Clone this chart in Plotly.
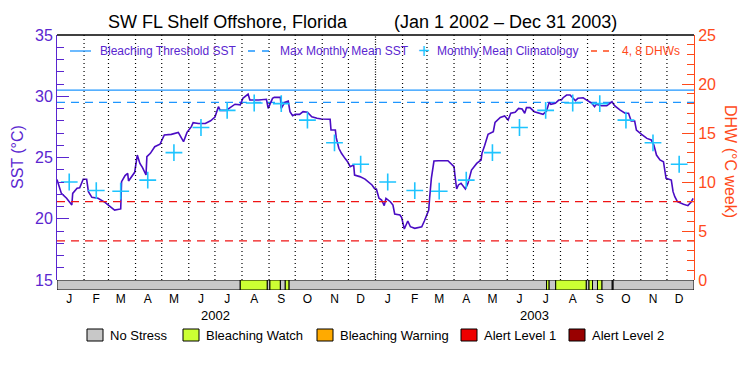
import plotly.graph_objects as go
import pandas as pd

# ---------------- data ----------------
start_date = "2002-01-01"
n_days = 730

# daily SST trace (day offset from 1 Jan 2002, SST in degC)
sst_day = [0, 2, 5, 11, 17, 18, 23, 26, 28, 30, 34, 36, 40, 47, 55, 63, 66, 73, 74, 78,
           81, 82, 87, 89, 92, 95, 98, 102, 103, 107, 112, 118, 123, 131, 139, 145, 149, 154, 156, 162,
           170, 176, 181, 185, 187, 194, 198, 204, 210, 213, 219, 221, 231, 240, 242, 247, 249, 256, 257, 261,
           265, 267, 270, 273, 278, 282, 287, 292, 298, 303, 313, 314, 319, 320, 323, 326, 330, 333, 336, 340,
           341, 347, 353, 357, 361, 364, 366, 369, 372, 375, 377, 382, 385, 387, 393, 395, 398, 402, 405, 410,
           418, 421, 424, 426, 427, 429, 432, 437, 448, 453, 455, 456, 458, 460, 463, 468, 471, 475, 481, 486,
           487, 490, 494, 500, 502, 508, 513, 517, 520, 525, 529, 533, 536, 538, 542, 547, 553, 557, 561, 564,
           566, 571, 575, 578, 580, 584, 588, 591, 594, 597, 603, 607, 613, 616, 618, 624, 630, 636, 639, 645,
           651, 655, 658, 662, 664, 670, 676, 681, 684, 687, 691, 695, 698, 704, 706, 708, 711, 718, 723, 727, 729]
sst_val = [23.2, 22.76, 22.07, 21.67, 21.12, 22.07, 22.49, 22.53, 22.89, 23.22, 23.22, 22.21, 21.75, 21.67, 21.34, 20.93, 20.71, 20.8, 23.03, 23.52,
           23.7, 23.08, 23.57, 23.79, 25.2, 24.52, 24.17, 23.57, 25.07, 25.34, 25.88, 26.08, 26.84, 26.89, 27.05, 26.29, 27.05, 27.52, 27.84, 27.78,
           27.78, 28.0, 28.3, 29.15, 28.85, 28.85, 29.05, 29.35, 29.3, 29.83, 30.17, 29.69, 29.69, 29.75, 29.01, 29.83, 29.91, 29.91, 29.01, 29.5,
           29.61, 28.74, 28.41, 28.52, 28.52, 28.74, 28.69, 28.33, 28.2, 28.14, 28.12, 27.24, 27.24, 26.62, 25.75, 25.34, 24.93, 24.66, 24.25, 24.39,
           23.57, 23.44, 23.24, 23.03, 22.76, 22.45, 22.43, 21.67, 21.53, 21.07, 21.67, 21.39, 21.12, 20.39, 20.31, 20.09, 19.16, 19.82, 19.35, 19.22,
           19.35, 19.82, 20.44, 20.71, 21.67, 23.3, 24.71, 24.74, 24.74, 24.39, 24.25, 23.57, 22.43, 22.76, 22.89, 22.43, 22.89, 23.98, 24.52, 24.8,
           25.34, 25.96, 26.89, 27.1, 27.86, 28.27, 28.39, 28.06, 28.61, 28.69, 29.01, 28.96, 28.61, 29.07, 29.07, 28.74, 28.61, 28.52, 28.8, 29.5,
           29.34, 29.42, 29.69, 29.69, 29.88, 30.1, 30.1, 29.83, 29.64, 29.83, 29.88, 29.69, 29.42, 29.15, 29.34, 29.23, 29.23, 29.55, 29.23, 28.88,
           28.61, 28.61, 27.98, 27.98, 27.24, 26.89, 26.56, 26.43, 26.02, 25.2, 24.8, 24.66, 23.3, 23.16, 22.21, 21.8, 21.39, 21.18, 21.07, 21.39, 21.67]

# monthly mean climatology (Jan..Dec), plotted at mid-month of each year
clim_months = ["01", "02", "03", "04", "05", "06", "07", "08", "09", "10", "11", "12"]
clim_sst = [23.0, 22.3, 22.25, 23.15, 25.4, 27.45, 28.85, 29.45, 29.4, 28.05, 26.2, 24.45]
years = ["2002", "2003"]

bleaching_threshold = 30.5
max_monthly_mean = 29.5
dhw_levels = [4, 8]

# bleaching stress bar: (start day, end day, level)
stress_start = [0, 210, 241, 244, 256, 261.6, 266, 561, 564, 571.5, 606.6, 609.7, 613.7, 619.4, 624.6, 636.3, 637.3]
stress_end = [210, 241, 244, 256, 261.6, 266, 561, 564, 571.5, 606.6, 609.7, 613.7, 619.4, 624.6, 636.3, 637.3, 730]
stress_level = ["No Stress", "Bleaching Watch", "No Stress", "Bleaching Watch", "No Stress", "Bleaching Watch",
                "No Stress", "Bleaching Watch", "No Stress", "Bleaching Watch", "No Stress", "Bleaching Watch",
                "No Stress", "Bleaching Watch", "No Stress", "No Stress", "No Stress"]

stress_names = ["No Stress", "Bleaching Watch", "Bleaching Warning", "Alert Level 1", "Alert Level 2"]
stress_colors = ["#C8C8C8", "#CCFF33", "#FFAA00", "#EE0000", "#990000"]

month_letters = ["J", "F", "M", "A", "M", "J", "J", "A", "S", "O", "N", "D"]

# ---------------- styling ----------------
PURPLE = "#5A26D0"
LINE = "#4A0CC4"
ORANGE = "#FF4A1A"
BLUE = "#1E96FF"
CYAN = "#1EC4FF"
RED = "#F01414"
FONT = "Liberation Sans, Arial, sans-serif"

base = pd.Timestamp(start_date)
end = base + pd.Timedelta(days=n_days)


def to_date(offsets):
    return [base + pd.Timedelta(days=float(o)) for o in offsets]


fig = go.Figure()

# month dividers
month_starts = pd.date_range(base, end, freq="MS")[1:-1]
for m in month_starts:
    dash = "1px,1.5px" if (m.month == 1) else "1px,3px"
    fig.add_shape(type="line", xref="x", yref="y", x0=m, x1=m, y0=15, y1=35,
                  line=dict(color="black", width=1.2, dash=dash))

# threshold lines
fig.add_trace(go.Scatter(x=[base, end], y=[bleaching_threshold] * 2, mode="lines",
                         line=dict(color=BLUE, width=1.3), showlegend=False, hoverinfo="skip"))
fig.add_trace(go.Scatter(x=[base, end], y=[max_monthly_mean] * 2, mode="lines",
                         line=dict(color=BLUE, width=1.3, dash="8px,6px"), showlegend=False, hoverinfo="skip"))
for lv in dhw_levels:
    fig.add_trace(go.Scatter(x=[base, end], y=[lv, lv], mode="lines", yaxis="y2",
                             line=dict(color=RED, width=1.3, dash="8px,6px"), showlegend=False, hoverinfo="skip"))

# SST line
fig.add_trace(go.Scatter(x=to_date(sst_day), y=sst_val, mode="lines",
                         line=dict(color=LINE, width=1.6), showlegend=False))

# climatology crosses
clim_x = [pd.Timestamp(f"{y}-{m}-15") for y in years for m in clim_months]
clim_y = clim_sst * len(years)
fig.add_trace(go.Scatter(x=clim_x, y=clim_y, mode="markers",
                         marker=dict(symbol="cross-thin", size=12, line=dict(color=CYAN, width=1.6)),
                         showlegend=False))

# stress bar
color_map = dict(zip(stress_names, stress_colors))
fig.add_trace(go.Bar(
    base=to_date(stress_start),
    x=[(e - s) * 86400000 for s, e in zip(stress_start, stress_end)],
    y=[0] * len(stress_start), orientation="h", yaxis="y3", width=1,
    marker=dict(color=[color_map[l] for l in stress_level], line=dict(color="black", width=1)),
    showlegend=False, hoverinfo="skip"))

mid_months = [pd.Timestamp(f"{y}-{m}-15") for y in years for m in clim_months]

# page has an 8px body margin: figure is drawn at (8, 8)
OFF = 8
W, H = 750 - OFF, 375 - OFF
L, R, T, B = 57 - OFF, W - (694 - OFF), 35 - OFF, H - (290 - OFF)
pw, ph = W - L - R, H - T - B
bar_frac = 10 / ph


def px(x):  # reference-screenshot pixel -> paper x
    return (x - OFF - L) / pw


def py(y):  # reference-screenshot pixel -> paper y
    return (T + ph - (y - OFF)) / ph


fig.update_layout(
    width=W, height=H, margin=dict(l=L, r=R, t=T, b=B, autoexpand=False),
    paper_bgcolor="white", plot_bgcolor="white", barmode="overlay",
    font=dict(family=FONT, color="black"),
    xaxis=dict(type="date", range=[base, end], anchor="y3", tickvals=mid_months,
               ticktext=month_letters * len(years), ticks="", showgrid=False, zeroline=False,
               showline=False, tickfont=dict(size=12, color="black"), automargin=False),
    yaxis=dict(domain=[bar_frac, 1], range=[15, 35], tickvals=[15, 20, 25, 30, 35],
               ticks="inside", ticklen=12, tickcolor=PURPLE, showline=True, linecolor=PURPLE,
               minor=dict(dtick=1, ticks="inside", ticklen=7, tickcolor=PURPLE),
               showgrid=False, zeroline=False, tickfont=dict(size=16, color=PURPLE), anchor="x",
               automargin=False),
    yaxis2=dict(overlaying="y", side="right", range=[0, 25], tickvals=[0, 5, 10, 15, 20, 25],
                ticks="inside", ticklen=12, tickcolor=ORANGE, showline=True, linecolor=ORANGE,
                minor=dict(dtick=1, ticks="inside", ticklen=7, tickcolor=ORANGE),
                showgrid=False, zeroline=False, tickfont=dict(size=16, color=ORANGE), anchor="x",
                automargin=False),
    yaxis3=dict(domain=[0, bar_frac], range=[-0.5, 0.5], visible=False, anchor="x", automargin=False),
)

# top border
fig.add_shape(type="line", xref="paper", yref="paper", x0=0, x1=1, y0=1, y1=1,
              line=dict(color="black", width=1.5))

ann = []
# title
ann.append(dict(text="SW FL Shelf Offshore, Florida", x=px(106), y=py(22), xanchor="left",
                font=dict(size=18)))
ann.append(dict(text="(Jan 1 2002 \u2013 Dec 31 2003)", x=px(392), y=py(22), xanchor="left",
                font=dict(size=18)))
# axis titles
ann.append(dict(text="SST (\u00b0C)", x=px(17), y=py(157), textangle=-90, xanchor="center",
                font=dict(size=16, color=PURPLE)))
ann.append(dict(text="DHW (\u00b0C week)", x=px(731), y=py(161), textangle=90, xanchor="center",
                font=dict(size=16, color=ORANGE)))
# year labels
for yname in years:
    xm = pd.Timestamp(f"{yname}-07-02")
    ann.append(dict(text=yname, x=xm, xref="x", y=py(315), xanchor="center", font=dict(size=13)))

# top legend
leg_y = py(51)
ann.append(dict(text="Bleaching Threshold SST", x=px(98), y=leg_y, xanchor="left", font=dict(size=12, color=PURPLE)))
ann.append(dict(text="Max Monthly Mean SST", x=px(278), y=leg_y, xanchor="left", font=dict(size=12, color=PURPLE)))
ann.append(dict(text="+", x=px(424), y=leg_y, xanchor="center", font=dict(size=20, color=CYAN)))
ann.append(dict(text="Monthly Mean Climatology", x=px(435), y=leg_y, xanchor="left", font=dict(size=12, color=PURPLE)))
ann.append(dict(text="4, 8 DHWs", x=px(620), y=leg_y, xanchor="left", font=dict(size=12, color=ORANGE)))
fig.add_shape(type="line", xref="paper", yref="paper", x0=px(70), x1=px(91), y0=leg_y, y1=leg_y,
              line=dict(color=BLUE, width=1.3))
fig.add_shape(type="line", xref="paper", yref="paper", x0=px(248), x1=px(272), y0=leg_y, y1=leg_y,
              line=dict(color=BLUE, width=1.3, dash="7px,7px"))
fig.add_shape(type="line", xref="paper", yref="paper", x0=px(591), x1=px(612), y0=leg_y, y1=leg_y,
              line=dict(color=ORANGE, width=1.3, dash="6px,6px"))

# bottom legend
box_x = [87, 183, 317, 461, 569]
for bx, name, col in zip(box_x, stress_names, stress_colors):
    fig.add_shape(type="rect", xref="paper", yref="paper", x0=px(bx), x1=px(bx + 16),
                  y0=py(341), y1=py(329), fillcolor=col, line=dict(color="black", width=1))
    ann.append(dict(text=name, x=px(bx + 21), y=py(335), xanchor="left", font=dict(size=13)))

for a in ann:
    a.setdefault("xref", "paper")
    a.setdefault("yref", "paper")
    a.setdefault("showarrow", False)
    a.setdefault("yanchor", "middle")
    fig.add_annotation(**a)

fig.write_html("out.html")
